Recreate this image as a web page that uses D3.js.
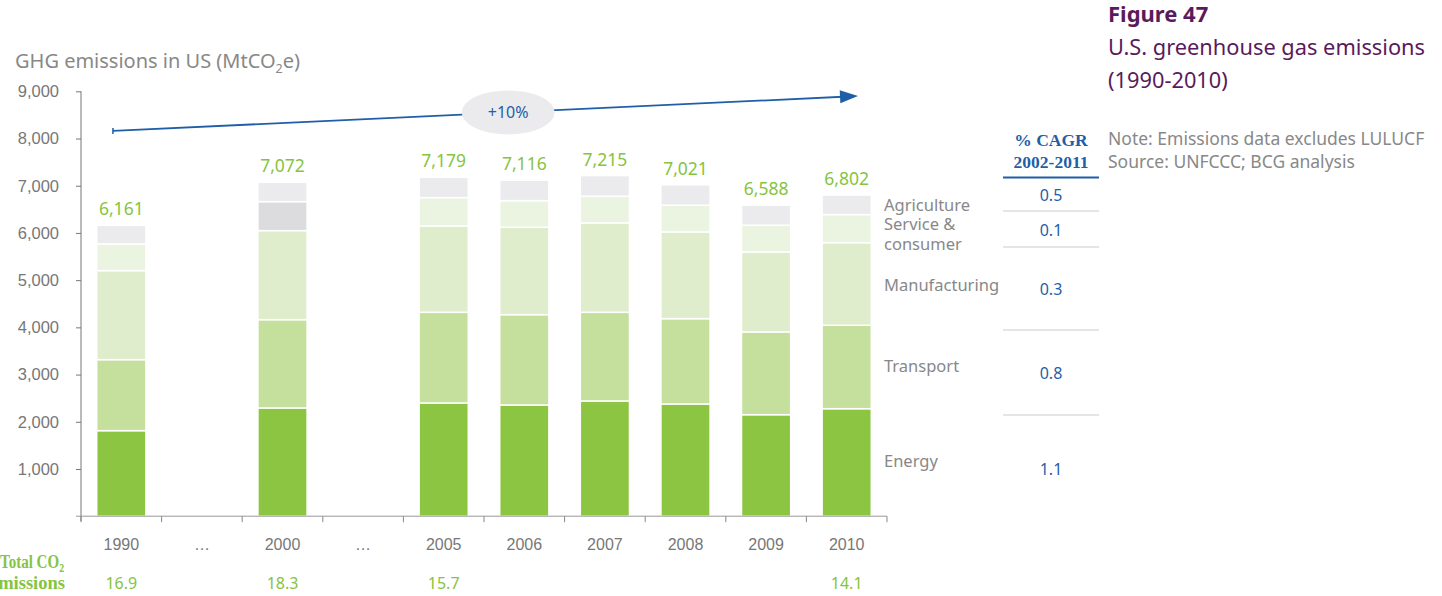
<!DOCTYPE html>
<html>
<head>
<meta charset="utf-8">
<script src="https://cdn.jsdelivr.net/npm/d3@7"></script>
<style>
  body { margin: 0; background: #fff; }
  svg { display: block; font-family: "Noto Sans", "Open Sans", sans-serif; }
</style>
</head>
<body>
<svg id="chart" width="1442" height="596"></svg>
<script>
// ---- data ----
const categories = ["1990", "…a", "2000", "…b", "2005", "2006", "2007", "2008", "2009", "2010"];
const categoryLabels = ["1990", "…", "2000", "…", "2005", "2006", "2007", "2008", "2009", "2010"];
const sectors = ["Energy", "Transport", "Manufacturing", "Service", "Agriculture"];
const energy        = [1812, null, 2292, null, 2398, 2356, 2441, 2377, 2150, 2277];
const transport     = [1504, null, 1871, null, 1921, 1913, 1878, 1807, 1753, 1767];
const manufacturing = [1885, null, 1886, null, 1829, 1851, 1893, 1837, 1694, 1750];
const service       = [ 566, null,  614, null,  600,  564,  565,  566,  566,  594];
const agriculture   = [ 394, null,  409, null,  431,  432,  438,  434,  425,  414];
const totals        = [6161, null, 7072, null, 7179, 7116, 7215, 7021, 6588, 6802];
const totalCO2      = ["16.9", null, "18.3", null, "15.7", null, null, null, null, "14.1"];
const yTicks = [0, 1000, 2000, 3000, 4000, 5000, 6000, 7000, 8000, 9000];
const cagrValues = ["0.5", "0.1", "0.3", "0.8", "1.1"];
const sectorLabels = [["Agriculture"], ["Service &", "consumer"], ["Manufacturing"], ["Transport"], ["Energy"]];
const growthLabel = "+10%";
const trendStart = 8160, trendEnd = 8900;

// ---- style ----
const colors = {
  Energy: "#8cc542", Transport: "#c5e09d", Manufacturing: "#dfedcc",
  Service: "#eaf4e0", Agriculture: "#ebebed"
};
const serviceAltColor = "#dcdcde"; // 2000 bar shading in the original
const green = "#86c440", blue = "#1f5fa8", gray = "#888", purple = "#5a1a5c";
const serif = "'Liberation Serif', 'DejaVu Serif', serif";

const svg = d3.select("#chart");
const x = d3.scaleBand().domain(categories).range([81, 887]).paddingInner(0.39).paddingOuter(0.195);
const y = d3.scaleLinear().domain([0, 9000]).range([516.2, 91.3]);

// stacked data
const rows = categories.map((c, i) => ({
  cat: c, Energy: energy[i], Transport: transport[i], Manufacturing: manufacturing[i],
  Service: service[i], Agriculture: agriculture[i], total: totals[i]
})).filter(r => r.total != null);
const stack = d3.stack().keys(sectors)(rows);

const g = svg.append("g");
stack.forEach(layer => {
  g.selectAll(null).data(layer).enter().append("rect")
    .attr("x", d => x(d.data.cat))
    .attr("width", x.bandwidth())
    .attr("y", d => y(d[1]))
    .attr("height", d => y(d[0]) - y(d[1]))
    .attr("fill", d => (layer.key === "Service" && d.data.cat === "2000") ? serviceAltColor : colors[layer.key])
    .attr("stroke", "#fff").attr("stroke-width", 1.5);
});

// total labels
g.selectAll(null).data(rows).enter().append("text")
  .attr("x", d => x(d.cat) + x.bandwidth() / 2)
  .attr("y", d => y(d.total) - 10)
  .attr("text-anchor", "middle").attr("fill", green).attr("font-size", 17.5)
  .text(d => d3.format(",")(d.total));

// y axis
const yAxis = svg.append("g").attr("transform", "translate(81,0)")
  .call(d3.axisLeft(y).tickValues(yTicks.filter(v => v > 0)).tickFormat(d3.format(",")).tickSize(5).tickPadding(17));
yAxis.select(".domain").remove();
yAxis.selectAll("line").attr("stroke", "#777");
yAxis.selectAll("text").attr("fill", "#777").attr("font-size", 16.5).attr("font-family", null);
svg.append("line").attr("x1", 81).attr("x2", 81).attr("y1", y(9000)).attr("y2", y(0) + 5).attr("stroke", "#777");

// x axis
svg.append("line").attr("x1", 76).attr("x2", 887).attr("y1", y(0)).attr("y2", y(0)).attr("stroke", "#999");
const bounds = d3.range(categories.length + 1).map(i => x.range()[0] + i * x.step());
svg.selectAll(null).data(bounds).enter().append("line")
  .attr("x1", d => d).attr("x2", d => d).attr("y1", y(0)).attr("y2", y(0) + 6).attr("stroke", "#888");
const xAxis = svg.append("g").attr("transform", `translate(0,${y(0)})`)
  .call(d3.axisBottom(x).tickSize(0).tickPadding(22).tickFormat((d, i) => categoryLabels[i]));
xAxis.select(".domain").remove();
xAxis.selectAll("text").attr("fill", "#777").attr("font-size", 16).attr("font-family", null);

// axis title
const title = svg.append("text").attr("x", 15).attr("y", 68).attr("fill", gray).attr("font-size", 20);
title.append("tspan").text("GHG emissions in US (MtCO");
title.append("tspan").attr("font-size", 12.5).attr("dy", 5).text("2");
title.append("tspan").attr("dy", -5).text("e)");

// trend arrow
const ax1 = x("1990") + x.bandwidth() * 0.33, ax2 = x("2010") + x.bandwidth() * 0.73;
const ay1 = y(trendStart), ay2 = y(trendEnd);
svg.append("line").attr("x1", ax1).attr("y1", ay1).attr("x2", ax2 - 10).attr("y2", ay2 + 0.5)
  .attr("stroke", blue).attr("stroke-width", 1.8);
svg.append("path").attr("d", `M${ax2 - 18},${ay2 - 6.5} L${ax2},${ay2} L${ax2 - 18},${ay2 + 6.5} Z`)
  .attr("fill", blue)
  .attr("transform", `rotate(${Math.atan2(ay2 - ay1, ax2 - ax1) * 180 / Math.PI},${ax2},${ay2})`);
svg.append("line").attr("x1", ax1).attr("x2", ax1).attr("y1", ay1 - 3).attr("y2", ay1 + 3).attr("stroke", blue).attr("stroke-width", 1.5);
const ex = x("…b") + x.bandwidth() * 0.5 + x.step() * 1.8;
const ey = ay1 + (ay2 - ay1) * (ex - ax1) / (ax2 - ax1);
svg.append("ellipse").attr("cx", ex).attr("cy", ey).attr("rx", 46.5).attr("ry", 22).attr("fill", "#ebebed");
svg.append("text").attr("x", ex).attr("y", ey + 6).attr("text-anchor", "middle")
  .attr("fill", blue).attr("font-size", 16).text(growthLabel);

// sector labels (right)
const labelY = [205, 224, 285, 366, 461];
sectorLabels.forEach((lines, i) => {
  const t = svg.append("text").attr("x", 884).attr("y", labelY[i] + 6).attr("fill", gray).attr("font-size", 16.5);
  lines.forEach((l, j) => t.append("tspan").attr("x", 884).attr("dy", j ? 20 : 0).text(l));
});

// CAGR table
const tx = 1051;
svg.append("text").attr("x", tx).attr("y", 146).attr("text-anchor", "middle").attr("fill", blue)
  .style("font-family", serif).attr("font-weight", "bold").attr("font-size", 17.5).text("% CAGR");
svg.append("text").attr("x", tx).attr("y", 168).attr("text-anchor", "middle").attr("fill", blue)
  .style("font-family", serif).attr("font-weight", "bold").attr("font-size", 17.5).text("2002-2011");
svg.append("line").attr("x1", 1003).attr("x2", 1099).attr("y1", 177.5).attr("y2", 177.5).attr("stroke", blue).attr("stroke-width", 2);
const cagrY = [195, 230, 289, 373, 469];
cagrValues.forEach((v, i) => {
  svg.append("text").attr("x", tx).attr("y", cagrY[i] + 6).attr("text-anchor", "middle")
    .attr("fill", blue).attr("font-size", 16).text(v);
});
[211, 247, 330, 415].forEach(yy => {
  svg.append("line").attr("x1", 1003).attr("x2", 1099).attr("y1", yy).attr("y2", yy).attr("stroke", "#ccc").attr("stroke-width", 1.2);
});

// title block
svg.append("text").attr("x", 1108).attr("y", 22).attr("fill", purple).attr("font-size", 22).attr("font-weight", "bold").text("Figure 47");
svg.append("text").attr("x", 1108).attr("y", 55).attr("fill", purple).attr("font-size", 21.8).text("U.S. greenhouse gas emissions");
svg.append("text").attr("x", 1108).attr("y", 88).attr("fill", purple).attr("font-size", 21.8).text("(1990-2010)");
svg.append("text").attr("x", 1108).attr("y", 145).attr("fill", gray).attr("font-size", 17.5).text("Note: Emissions data excludes LULUCF");
svg.append("text").attr("x", 1108).attr("y", 168).attr("fill", gray).attr("font-size", 17.5).text("Source: UNFCCC; BCG analysis");

// Total CO2 emissions row
const tl = svg.append("text").attr("x", 0).attr("y", 568).attr("fill", green)
  .attr("textLength", 64).attr("lengthAdjust", "spacingAndGlyphs")
  .style("font-family", serif).attr("font-weight", "bold").attr("font-size", 18.5);
tl.append("tspan").text("Total CO");
tl.append("tspan").attr("font-size", 12).attr("dy", 4).text("2");
svg.append("text").attr("x", 65).attr("y", 589).attr("text-anchor", "end").attr("fill", green)
  .style("font-family", serif).attr("font-weight", "bold").attr("font-size", 18.5).text("Emissions");
svg.selectAll(null).data(categories.map((c, i) => ({ c, v: totalCO2[i] })).filter(d => d.v)).enter().append("text")
  .attr("x", d => x(d.c) + x.bandwidth() / 2).attr("y", 589).attr("text-anchor", "middle")
  .attr("fill", green).attr("font-size", 16).text(d => d.v);
</script>
</body>
</html>
